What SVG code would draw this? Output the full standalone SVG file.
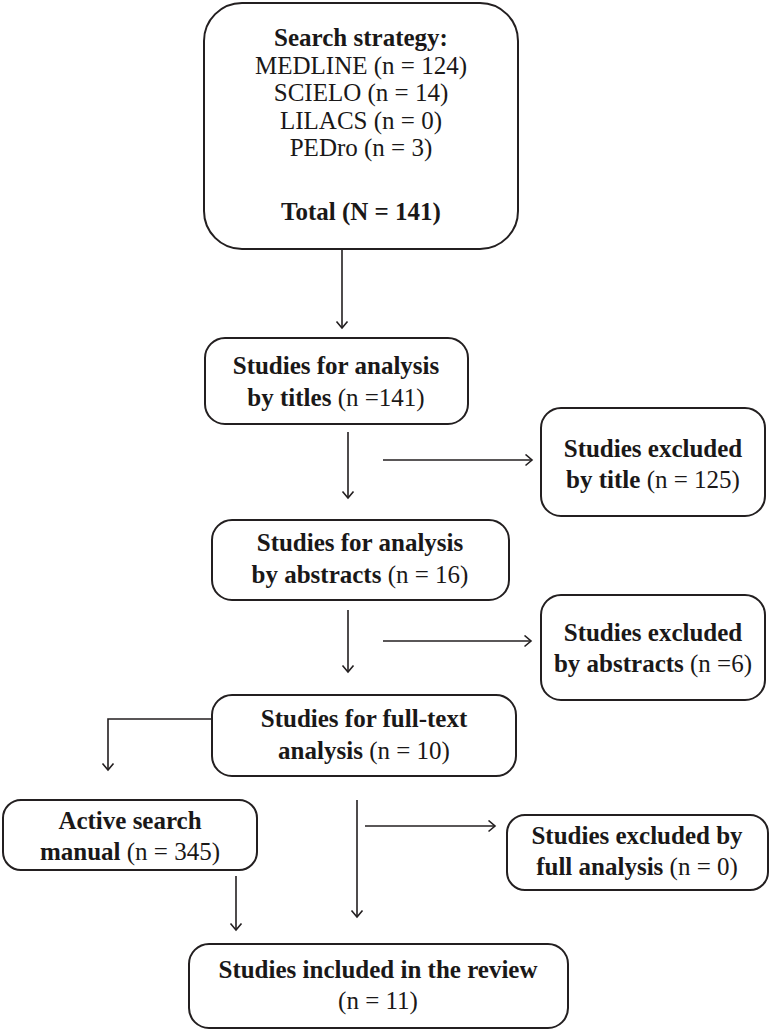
<svg xmlns="http://www.w3.org/2000/svg" width="771" height="1033" viewBox="0 0 771 1033">
<style>
.box{fill:#fff;stroke:#231f20;stroke-width:2}
text{font-family:"Liberation Serif","Times New Roman",serif;font-size:25px;fill:#1a1818;text-anchor:middle}
.b{font-weight:bold}
.c{fill:none;stroke:#231f20;stroke-width:1.6}
</style>
<defs>
<marker id="ah" markerWidth="10" markerHeight="14" refX="7.5" refY="6.5" orient="auto" markerUnits="userSpaceOnUse">
<path d="M1,1 L7.5,6.5 L1,12" fill="none" stroke="#231f20" stroke-width="1.6"/>
</marker>
</defs>
<rect width="771" height="1033" fill="#fff"/>
<g id="connectors">
<path class="c" d="M342,249 V328" marker-end="url(#ah)"/>
<path class="c" d="M348,432 V498" marker-end="url(#ah)"/>
<path class="c" d="M383,460 H532" marker-end="url(#ah)"/>
<path class="c" d="M348,610 V672" marker-end="url(#ah)"/>
<path class="c" d="M383,641 H531" marker-end="url(#ah)"/>
<path class="c" d="M212,719 H108 V770" marker-end="url(#ah)"/>
<path class="c" d="M236,876 V930" marker-end="url(#ah)"/>
<path class="c" d="M357,800 V917" marker-end="url(#ah)"/>
<path class="c" d="M365,826 H495" marker-end="url(#ah)"/>
</g>
<g id="search">
<rect class="box" x="204" y="3" width="314" height="246" rx="38"/>
<text x="361" y="46" class="b">Search strategy:</text>
<text x="361" y="74">MEDLINE (n = 124)</text>
<text x="361" y="101">SCIELO (n = 14)</text>
<text x="361" y="129">LILACS (n = 0)</text>
<text x="361" y="156">PEDro (n = 3)</text>
<text x="361" y="220" class="b">Total (N = 141)</text>
</g>
<g id="titles">
<rect class="box" x="205" y="338" width="263" height="86" rx="20"/>
<text x="336" y="374" class="b">Studies for analysis</text>
<text x="336" y="406"><tspan class="b">by titles</tspan> (n =141)</text>
</g>
<g id="excl-title">
<rect class="box" x="541" y="408" width="224" height="108" rx="20"/>
<text x="653" y="457" class="b">Studies excluded</text>
<text x="653" y="488"><tspan class="b">by title</tspan> (n = 125)</text>
</g>
<g id="abstracts">
<rect class="box" x="212" y="520" width="297" height="80" rx="20"/>
<text x="360" y="551" class="b">Studies for analysis</text>
<text x="360" y="583"><tspan class="b">by abstracts</tspan> (n = 16)</text>
</g>
<g id="excl-abstracts">
<rect class="box" x="541" y="595" width="224" height="105" rx="20"/>
<text x="653" y="641" class="b">Studies excluded</text>
<text x="653" y="672"><tspan class="b">by abstracts</tspan> (n =6)</text>
</g>
<g id="fulltext">
<rect class="box" x="212" y="695" width="304" height="81" rx="20"/>
<text x="364" y="727" class="b">Studies for full-text</text>
<text x="364" y="759"><tspan class="b">analysis</tspan> (n = 10)</text>
</g>
<g id="active">
<rect class="box" x="3" y="800" width="254" height="70" rx="18"/>
<text x="130" y="829" class="b">Active search</text>
<text x="130" y="860"><tspan class="b">manual</tspan> (n = 345)</text>
</g>
<g id="excl-full">
<rect class="box" x="507" y="815" width="261" height="75" rx="18"/>
<text x="637" y="844" class="b">Studies excluded by</text>
<text x="637" y="875"><tspan class="b">full analysis</tspan> (n = 0)</text>
</g>
<g id="included">
<rect class="box" x="189" y="944" width="379" height="84" rx="20"/>
<text x="378" y="978" class="b">Studies included in the review</text>
<text x="378" y="1009">(n = 11)</text>
</g>
</svg>
